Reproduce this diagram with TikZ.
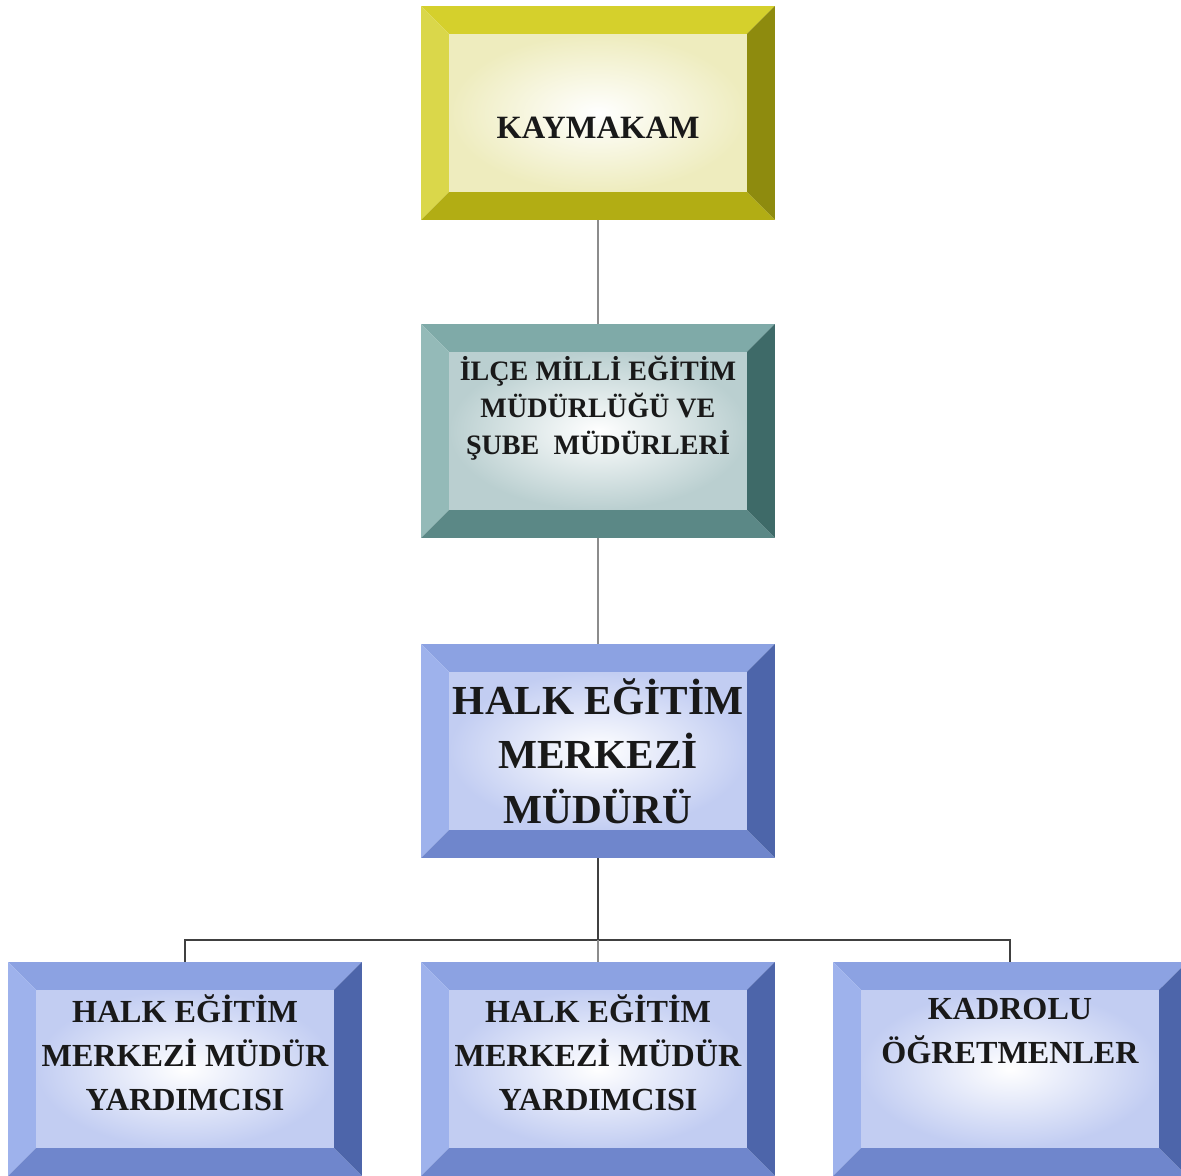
\documentclass[tikz,border=0pt]{standalone}
\usepackage{fontspec}
\setmainfont{Liberation Serif}

\definecolor{gialloTop}{HTML}{D5D02C}
\definecolor{gialloSx}{HTML}{DAD74A}
\definecolor{gialloDx}{HTML}{8E8B0E}
\definecolor{gialloBot}{HTML}{B2AD14}
\definecolor{gialloIn}{HTML}{EEECBE}
\definecolor{verdeTop}{HTML}{7FAAA8}
\definecolor{verdeSx}{HTML}{94BAB8}
\definecolor{verdeDx}{HTML}{3E6A68}
\definecolor{verdeBot}{HTML}{5B8886}
\definecolor{verdeIn}{HTML}{BACFD0}
\definecolor{bluTop}{HTML}{8CA2E2}
\definecolor{bluSx}{HTML}{9EB2EC}
\definecolor{bluDx}{HTML}{4D65AA}
\definecolor{bluBot}{HTML}{6F86CC}
\definecolor{bluIn}{HTML}{C2CDF2}

\def\bevw{0.56cm}

\tikzset{
    bevel/.style={minimum width=7.08cm, minimum height=4.28cm, inner sep=0pt, fill=white,
        path picture={
            \fill[#1Top] (path picture bounding box.north west) -- (path picture bounding box.north east)
                -- ([xshift=-\bevw,yshift=-\bevw]path picture bounding box.north east)
                -- ([xshift=\bevw,yshift=-\bevw]path picture bounding box.north west) -- cycle;
            \fill[#1Sx] (path picture bounding box.north west) -- (path picture bounding box.south west)
                -- ([xshift=\bevw,yshift=\bevw]path picture bounding box.south west)
                -- ([xshift=\bevw,yshift=-\bevw]path picture bounding box.north west) -- cycle;
            \fill[#1Dx] (path picture bounding box.north east) -- (path picture bounding box.south east)
                -- ([xshift=-\bevw,yshift=\bevw]path picture bounding box.south east)
                -- ([xshift=-\bevw,yshift=-\bevw]path picture bounding box.north east) -- cycle;
            \fill[#1Bot] (path picture bounding box.south west) -- (path picture bounding box.south east)
                -- ([xshift=-\bevw,yshift=\bevw]path picture bounding box.south east)
                -- ([xshift=\bevw,yshift=\bevw]path picture bounding box.south west) -- cycle;
            \shade[inner color=white, outer color=#1In]
                ([xshift=\bevw,yshift=-\bevw]path picture bounding box.north west)
                rectangle ([xshift=-\bevw,yshift=\bevw]path picture bounding box.south east);
        }},
    testo/.style={align=center, text=black!90},
    linea/.style={draw=black!45, line width=0.7pt},
    albero/.style={draw=black!75, line width=0.8pt}
}

\begin{document}
\begin{tikzpicture}[x=0.02cm, y=0.02cm]
        \useasboundingbox (0,0) rectangle (1181,-1176);

        %%%%%%%%%% Nodi %%%%%%%%%%
        \node (kaymakam) [bevel=giallo] at (598,-113) {};
        \node (ilce) [bevel=verde] at (598,-431) {};
        \node (mudur) [bevel=blu] at (598,-751) {};

        \foreach \nome/\x in {yard1/185, yard2/598, kadro/1010}
            \node (\nome) [bevel=blu] at (\x,-1069) {};

        %%%%%%%%% Testi %%%%%%%%%
        \node (kaymakam-t) [testo, font=\fontsize{18.5}{22}\selectfont\bfseries] at (598,-128) {KAYMAKAM};
        \node (ilce-t) [testo, font=\fontsize{16}{21}\selectfont\bfseries] at (598,-408)
            {İLÇE MİLLİ EĞİTİM\\MÜDÜRLÜĞÜ VE\\ŞUBE\ \ MÜDÜRLERİ};
        \node (mudur-t) [testo, font=\fontsize{23.5}{31}\selectfont\bfseries] at (598,-751)
            {HALK EĞİTİM\\MERKEZİ\\MÜDÜRÜ};

        \foreach \nome/\x in {yard1/185, yard2/598}
            \node (\nome-t) [testo, font=\fontsize{18.3}{25}\selectfont\bfseries] at (\x,-1053)
                {HALK EĞİTİM\\MERKEZİ MÜDÜR\\YARDIMCISI};
        \node (kadro-t) [testo, font=\fontsize{18.3}{25}\selectfont\bfseries] at (1010,-1031)
            {KADROLU\\ÖĞRETMENLER};

        %%%%%%%%% Linee %%%%%%%%%
        \coordinate (ramo) at (598,-940);

        \draw[linea] (kaymakam) -- (ilce);
        \draw[linea] (ilce) -- (mudur);

        \draw[albero] (mudur) -- (ramo);
        \draw[albero] (yard1.north) |- (ramo) -| (kadro.north);
        \draw[linea] (ramo) -- (yard2.north);
    \end{tikzpicture}
\end{document}
